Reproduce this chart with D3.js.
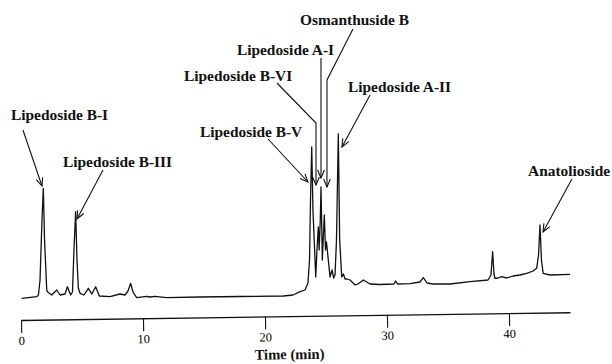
<!DOCTYPE html>
<html>
<head>
<meta charset="utf-8">
<script src="https://cdn.jsdelivr.net/npm/d3@7/dist/d3.min.js"></script>
<style>
  body { margin: 0; background: #fff; }
  svg { display: block; }
  .peak-label { font-family: "Liberation Serif", "Times New Roman", serif; font-weight: bold; font-size: 15.4px; fill: #111; }
  .tick text { font-family: "Liberation Serif", "Times New Roman", serif; font-size: 12.5px; fill: #000; }
  .axis-title { font-family: "Liberation Serif", "Times New Roman", serif; font-weight: bold; font-size: 14.6px; fill: #111; }
</style>
</head>
<body>
<svg id="chart" width="612" height="364"></svg>
<script>
// chromatogram: time (min) and detector response (a.u.)
var traceTime = [0.05, 1.29, 1.43, 1.56, 1.72, 1.83, 1.93, 2.11, 2.16, 2.52, 2.93, 3.20, 3.61, 3.80, 4.07,
  4.22, 4.34, 4.48, 4.59, 4.70, 4.84, 5.16, 5.52, 5.80, 6.12, 6.42, 7.30, 8.11, 8.52, 8.77, 8.99, 9.18,
  9.48, 10.3, 10.57, 10.98, 11.94, 14.67, 17.95, 21.5, 22.3, 22.87, 23.28, 23.52, 23.65, 23.73, 23.83,
  23.93, 24.16, 24.26, 24.37, 24.44, 24.53, 24.59, 24.70, 24.77, 24.86, 24.96, 25.04, 25.19, 25.33,
  25.49, 25.63, 25.74, 25.86, 26.01, 26.12, 26.29, 26.43, 26.56, 26.72, 26.97, 27.38, 27.62, 28.06,
  28.61, 29.43, 30.57, 30.71, 30.86, 31.89, 32.70, 32.98, 33.28, 33.77, 35.16, 36.80, 38.28, 38.52,
  38.66, 38.77, 38.85, 39.10, 39.40, 39.81, 40.33, 40.9, 41.45, 41.97, 42.27, 42.42, 42.54, 42.66,
  42.80, 43.36, 45.0];
var traceSignal = [1.7, 3.3, 5, 20, 80, 111.7, 60, 10, 8.3, 5, 10, 5, 6, 13.3, 5,
  8, 50, 88.3, 40, 12, 6.7, 5, 11.7, 6, 13.3, 4, 3.3, 6, 5, 9, 16.7, 8,
  2.3, 3.7, 3, 3.7, 2.3, 3, 3.5, 4, 5, 8.3, 10, 17, 40, 100, 153,
  90, 23, 50, 73, 50, 80, 113, 40, 60, 85, 50, 58, 40, 23,
  30, 22, 25, 60, 166, 60, 23, 26, 21, 21, 20, 15, 16, 20,
  16, 15.5, 16, 19, 16, 16.3, 18, 22.3, 17, 16, 16, 18.3, 20, 25,
  48.3, 26, 21.7, 22, 23.3, 22, 24, 25, 26.7, 29, 31.7, 45, 75, 40,
  26.7, 25, 25.7];

var compounds = ["Lipedoside B-I", "Lipedoside B-III", "Lipedoside B-V", "Lipedoside B-VI",
  "Lipedoside A-I", "Osmanthuside B", "Lipedoside A-II", "Anatolioside"];
var tickValues = [0, 10, 20, 30, 40];

// where each label and its arrow sit, in (time, response) units
var labelLayout = [
  { text: [-0.82, 180], arrow: [[0.16, 170], [1.72, 114]] },
  { text: [3.44, 133], arrow: [[6.72, 130], [4.59, 81]] },
  { text: [14.67, 163], arrow: [[20.25, 161], [23.52, 118]] },
  { text: [13.36, 219], arrow: [[20.98, 217], [24.18, 177], [24.18, 115]] },
  { text: [17.70, 245], arrow: [[24.59, 242], [24.59, 122]] },
  { text: [22.87, 275], arrow: [[27.21, 271], [25.08, 220], [25.08, 113]] },
  { text: [26.80, 208], arrow: [[28.61, 205], [26.31, 153]] },
  { text: [41.56, 124], arrow: [[45.16, 121], [42.79, 68]] }
];

var svg = d3.select("#chart");
var x = d3.scaleLinear().domain([0, 45]).range([21, 570]);
var y = d3.scaleLinear().domain([0, 300]).range([300, 0]);

svg.append("defs").append("marker")
  .attr("id", "head")
  .attr("viewBox", "-9 -5 10 10")
  .attr("markerUnits", "userSpaceOnUse")
  .attr("markerWidth", 10)
  .attr("markerHeight", 10)
  .attr("refX", 0)
  .attr("refY", 0)
  .attr("orient", "auto")
  .append("path")
  .attr("d", "M-8,-3.4L0,0L-8,3.4")
  .attr("fill", "none")
  .attr("stroke", "#111")
  .attr("stroke-width", 1.1);

// trace
var line = d3.line()
  .x(function(d, i) { return x(traceTime[i]); })
  .y(function(d) { return y(d); });

svg.append("path")
  .datum(traceSignal)
  .attr("d", line)
  .attr("fill", "none")
  .attr("stroke", "#111")
  .attr("stroke-width", 1.3)
  .attr("stroke-linejoin", "round");

// axis (the scanned original sits slightly tilted)
var axisG = svg.append("g")
  .attr("transform", "translate(0,320) rotate(-0.81," + x(0) + ",0)");

axisG.call(d3.axisBottom(x).tickValues(tickValues).tickSize(13).tickSizeOuter(0).tickPadding(3))
  .call(function(g) { g.select(".domain").attr("stroke", "#111").attr("stroke-width", 1.3); })
  .call(function(g) { g.selectAll(".tick line").attr("stroke", "#111").attr("stroke-width", 1.1); });

axisG.append("text")
  .attr("class", "axis-title")
  .attr("x", 289)
  .attr("y", 43)
  .attr("text-anchor", "middle")
  .text("Time (min)");

// labels and arrows
var ann = svg.append("g");
compounds.forEach(function(name, i) {
  var l = labelLayout[i];
  ann.append("text")
    .attr("class", "peak-label")
    .attr("x", x(l.text[0]))
    .attr("y", y(l.text[1]))
    .text(name);
  ann.append("path")
    .attr("d", d3.line().x(function(p) { return x(p[0]); }).y(function(p) { return y(p[1]); })(l.arrow))
    .attr("fill", "none")
    .attr("stroke", "#111")
    .attr("stroke-width", 1.1)
    .attr("marker-end", "url(#head)");
});
</script>
</body>
</html>
